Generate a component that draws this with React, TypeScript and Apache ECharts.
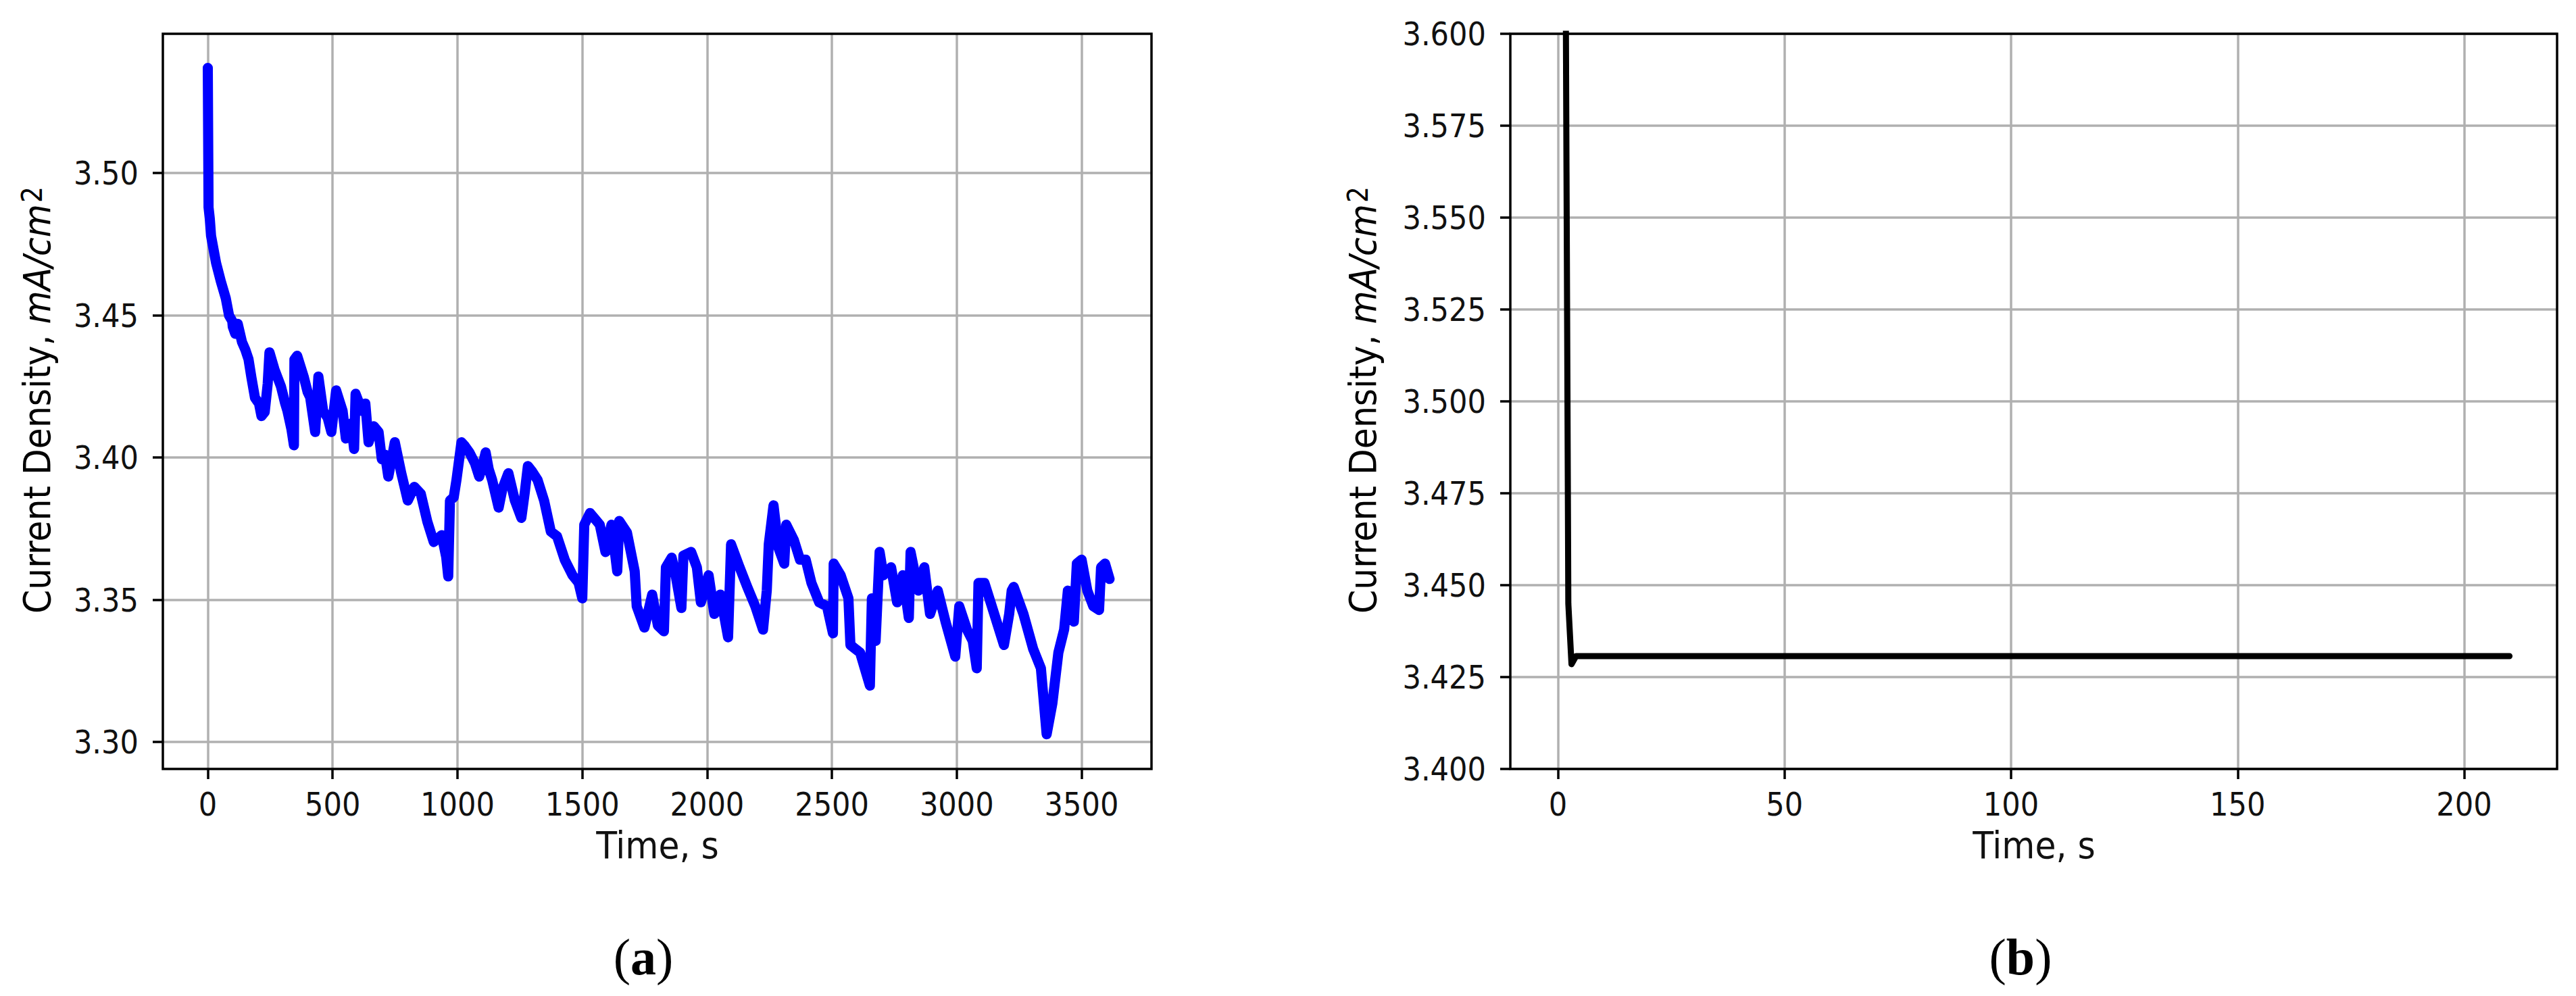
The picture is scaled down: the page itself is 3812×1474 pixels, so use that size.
import React, { useEffect, useRef } from "react";
import * as echarts from "echarts";

// ---- Panel (a): current density vs time (0..3600 s) ----
const timeA = [
  0, 3, 8, 13, 33, 52, 72, 85, 98, 100, 110, 120, 137, 150, 163, 175, 189, 205, 215, 228,
  240, 247, 267, 293, 310, 319, 335, 345, 347, 358, 384, 400, 410, 430, 443, 462, 480, 495, 514, 540,
  553, 575, 586, 592, 618, 631, 644, 665, 684, 697, 710, 723, 740, 749, 775, 790, 801, 827, 853, 879,
  905, 937, 955, 963, 970, 985, 996, 1016, 1030, 1048, 1070, 1087, 1100, 1113, 1125, 1139, 1165, 1180, 1204, 1230,
  1256, 1270, 1282, 1300, 1321, 1347, 1374, 1399, 1430, 1461, 1485, 1500, 1508, 1531, 1570, 1593, 1617, 1640, 1648, 1679,
  1710, 1718, 1749, 1780, 1803, 1827, 1835, 1858, 1874, 1897, 1905, 1936, 1959, 1975, 2006, 2029, 2053, 2084, 2096, 2130,
  2161, 2193, 2224, 2239, 2247, 2266, 2286, 2309, 2317, 2348, 2372, 2395, 2418, 2449, 2480, 2504, 2507, 2535, 2566, 2574,
  2613, 2652, 2660, 2675, 2691, 2706, 2737, 2761, 2784, 2808, 2815, 2846, 2870, 2893, 2924, 2955, 2994, 3010, 3041, 3064,
  3080, 3087, 3111, 3150, 3189, 3210, 3220, 3228, 3267, 3306, 3337, 3360, 3383, 3407, 3430, 3445, 3469, 3481, 3500, 3523,
  3547, 3570, 3578, 3594, 3612,
];
const currentA = [
  3.537, 3.488, 3.484, 3.478, 3.4685, 3.462, 3.456, 3.45, 3.448, 3.446, 3.4435, 3.447, 3.4406, 3.438, 3.4346, 3.428, 3.421, 3.419, 3.4146, 3.416,
  3.426, 3.437, 3.431, 3.425, 3.419, 3.4164, 3.41, 3.4043, 3.4345, 3.4358, 3.4285, 3.423, 3.4212, 3.409, 3.4285, 3.4164, 3.414, 3.409, 3.4236, 3.4164,
  3.4067, 3.412, 3.403, 3.4224, 3.4164, 3.419, 3.4054, 3.411, 3.409, 3.3994, 3.401, 3.3933, 3.401, 3.4054, 3.3945, 3.389, 3.3849, 3.3897, 3.3873, 3.3776,
  3.3703, 3.3727, 3.365, 3.3582, 3.3849, 3.386, 3.3921, 3.4054, 3.404, 3.4018, 3.398, 3.3933, 3.397, 3.4018, 3.396, 3.3921, 3.3824, 3.389, 3.3945, 3.3849,
  3.3788, 3.388, 3.397, 3.395, 3.3921, 3.3849, 3.374, 3.3723, 3.364, 3.3586, 3.356, 3.3505, 3.3764, 3.3805, 3.3764, 3.3668, 3.3764, 3.36, 3.3777, 3.3736,
  3.36, 3.3477, 3.3402, 3.3518, 3.3409, 3.3389, 3.3614, 3.3648, 3.3586, 3.3471, 3.3655, 3.3668, 3.3614, 3.3491, 3.3586, 3.345, 3.3518, 3.3368, 3.3695, 3.3614,
  3.3545, 3.3477, 3.3395, 3.3532, 3.3695, 3.3832, 3.3682, 3.3627, 3.3764, 3.3709, 3.3641, 3.3641, 3.3559, 3.3491, 3.3477, 3.3382, 3.3627, 3.3586, 3.3505, 3.3341,
  3.3314, 3.3198, 3.3505, 3.3355, 3.3668, 3.3586, 3.3614, 3.3491, 3.3586, 3.3436, 3.3668, 3.3532, 3.3614, 3.345, 3.3532, 3.3423, 3.33, 3.3477, 3.3395, 3.3355,
  3.3259, 3.3559, 3.3559, 3.345, 3.3341, 3.345, 3.3532, 3.3545, 3.345, 3.3327, 3.3259, 3.3027, 3.3136, 3.3314, 3.3395, 3.3532, 3.3423, 3.3627, 3.3641, 3.3532,
  3.3477, 3.3464, 3.3614, 3.3627, 3.3573,
];

// ---- Panel (b): current density vs time (0..210 s) ----
const timeB = [1.6, 2.3, 3, 4, 210];
const currentB = [3.65, 3.445, 3.4285, 3.4307, 3.4307];

// ---- Ticks ----
const xTicksA = [0, 500, 1000, 1500, 2000, 2500, 3000, 3500];
const yTicksA = [3.3, 3.35, 3.4, 3.45, 3.5];
const xTicksB = [0, 50, 100, 150, 200];
const yTicksB = [3.4, 3.425, 3.45, 3.475, 3.5, 3.525, 3.55, 3.575, 3.6];

const xLabel = "Time, s";
const yLabelPlain = "Current Density, ";
const yLabelMath = "mA/cm";
const yLabelSup = "2";
const panelLabels = ["a", "b"];

const W = 3812;
const H = 1474;
const FONT = "'DejaVu Sans Condensed', 'DejaVu Sans', sans-serif";

function valueAxis(
  gridIndex: number,
  min: number,
  max: number,
  ticks: number[],
  digits: number,
  isY: boolean
) {
  return {
    type: "value",
    gridIndex,
    min,
    max,
    axisLine: { show: false, onZero: false },
    axisTick: {
      show: true,
      inside: false,
      length: 15,
      customValues: ticks,
      lineStyle: { color: "#000", width: 3.5 },
    },
    axisLabel: {
      show: true,
      customValues: ticks,
      margin: isY ? 36 : 28,
      fontSize: 48,
      fontFamily: FONT,
      color: "#111",
      formatter: (v: number) => v.toFixed(digits),
    },
    splitLine: { show: true, lineStyle: { color: "#b0b0b0", width: 3.5 } },
  };
}

export default function App() {
  const ref = useRef<HTMLDivElement>(null);

  useEffect(() => {
    if (!ref.current) return;
    const chart = echarts.init(ref.current, undefined, { renderer: "svg", width: W, height: H });

    const dataA = timeA.map((t, i) => [t, currentA[i]]);
    const dataB = timeB.map((t, i) => [t, currentB[i]]);

    const yLabelRich = {
      r: { fontSize: 56, fontFamily: FONT, color: "#111" },
      i: { fontSize: 56, fontFamily: FONT, fontStyle: "italic", color: "#111" },
      s: { fontSize: 42, fontFamily: FONT, color: "#111", verticalAlign: "top", padding: [0, 0, 14, 2] },
    };
    const yText = `{r|${yLabelPlain}}{i|${yLabelMath}}{s|${yLabelSup}}`;

    const option: any = {
      animation: false,
      backgroundColor: "#fff",
      grid: [
        {
          left: 241,
          top: 50,
          width: 1463,
          height: 1088,
          show: true,
          borderColor: "#000",
          borderWidth: 3.5,
          backgroundColor: "transparent",
          containLabel: false,
          outerBoundsMode: "none",
          z: 3,
        },
        {
          left: 2235,
          top: 50,
          width: 1549,
          height: 1088,
          show: true,
          borderColor: "#000",
          borderWidth: 3.5,
          backgroundColor: "transparent",
          containLabel: false,
          outerBoundsMode: "none",
          z: 3,
        },
      ],
      xAxis: [
        valueAxis(0, -180, 3780, xTicksA, 0, false),
        valueAxis(1, -10.5, 220.5, xTicksB, 0, false),
      ],
      yAxis: [
        valueAxis(0, 3.2905, 3.549, yTicksA, 2, true),
        valueAxis(1, 3.4, 3.6, yTicksB, 3, true),
      ],
      series: [
        {
          type: "line",
          xAxisIndex: 0,
          yAxisIndex: 0,
          data: dataA,
          showSymbol: false,
          symbol: "none",
          clip: true,
          silent: true,
          lineStyle: { color: "#0000ff", width: 15, join: "round", cap: "round" },
        },
        {
          type: "line",
          xAxisIndex: 1,
          yAxisIndex: 1,
          data: dataB,
          showSymbol: false,
          symbol: "none",
          clip: true,
          silent: true,
          lineStyle: { color: "#000", width: 9, join: "round", cap: "round" },
        },
      ],
      graphic: [
        {
          type: "text",
          x: 973,
          y: 1250,
          style: { text: xLabel, fontSize: 56, fontFamily: FONT, fill: "#111", align: "center", verticalAlign: "middle" },
        },
        {
          type: "text",
          x: 3010,
          y: 1250,
          style: { text: xLabel, fontSize: 56, fontFamily: FONT, fill: "#111", align: "center", verticalAlign: "middle" },
        },
        {
          type: "text",
          x: 54,
          y: 592,
          rotation: Math.PI / 2,
          style: { text: yText, rich: yLabelRich, align: "center", verticalAlign: "middle" },
        },
        {
          type: "text",
          x: 2016,
          y: 592,
          rotation: Math.PI / 2,
          style: { text: yText, rich: yLabelRich, align: "center", verticalAlign: "middle" },
        },
        ...panelLabels.map((p, i) => ({
          type: "text",
          x: i === 0 ? 952 : 2990,
          y: 1416,
          style: {
            text: `{n|(}{b|${p}}{n|)}`,
            align: "center",
            verticalAlign: "middle",
            rich: {
              n: { fontSize: 76, fontFamily: "'Liberation Serif', serif", color: "#000" },
              b: { fontSize: 76, fontFamily: "'Liberation Serif', serif", fontWeight: "bold", color: "#000" },
            },
          },
        })),
      ],
    };

    chart.setOption(option);
    return () => chart.dispose();
  }, []);

  return (
    <div
      ref={ref}
      style={{ position: "fixed", left: 0, top: 0, width: W, height: H, background: "#fff" }}
    />
  );
}
